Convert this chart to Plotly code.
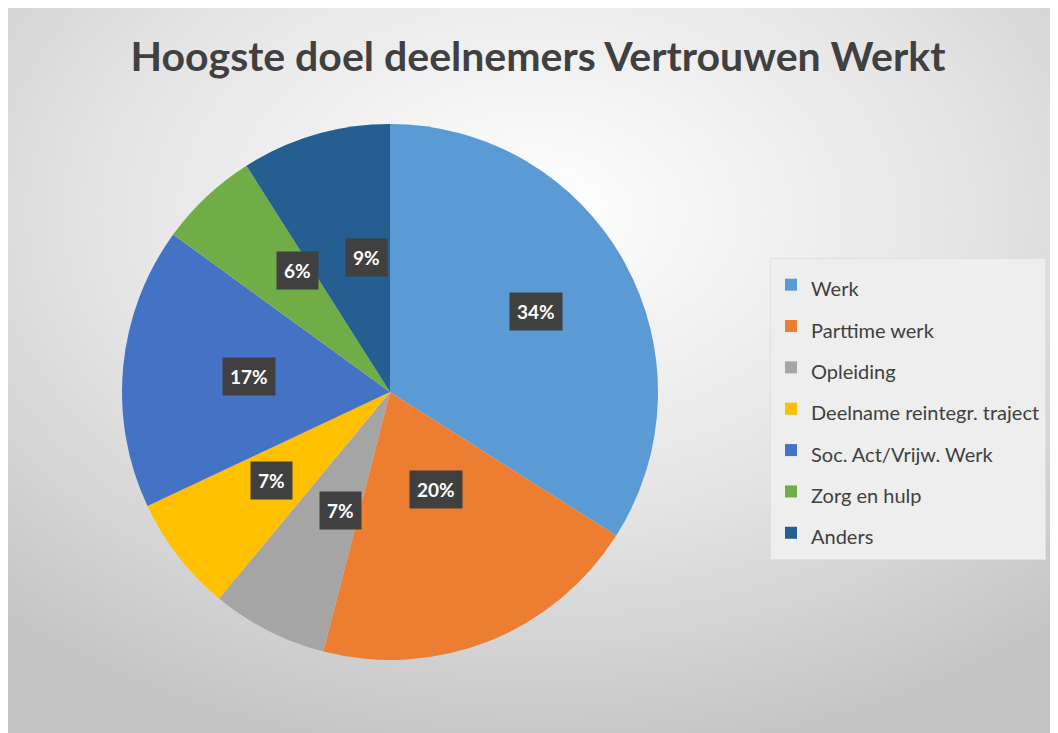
import math
import urllib.parse
import plotly.graph_objects as go

# ---- data ----
categories = ["Werk", "Parttime werk", "Opleiding", "Deelname reintegr. traject",
              "Soc. Act/Vrijw. Werk", "Zorg en hulp", "Anders"]
values = [34, 20, 7, 7, 17, 6, 9]
colors = ["#5B9BD5", "#ED7D31", "#A5A5A5", "#FFC000", "#4472C4", "#70AD47", "#255E91"]
title_text = "Hoogste doel deelnemers Vertrouwen Werkt"

W, H = 1058, 733
OFF = 8  # page body margin
FONT = "Lato, 'Open Sans', Calibri, sans-serif"

def px2x(px):
    return (px - OFF) / W

def py2y(py):
    return 1 - (py - OFF) / H

# pie geometry in screen pixels
cx, cy, R = 390, 392, 268
dom_x = [px2x(cx - R), px2x(cx + R)]
dom_y = [py2y(cy + R), py2y(cy - R)]

legend_labels = [f"<span style='font-size:20px'>{c}</span>" for c in categories]

fig = go.Figure()
fig.add_trace(go.Pie(
    labels=legend_labels, values=values, sort=False, direction="clockwise", rotation=0,
    marker=dict(colors=colors, line=dict(width=0)),
    textinfo="none", hovertemplate="%{percent}<extra></extra>",
    domain=dict(x=dom_x, y=dom_y),
    showlegend=True,
))

# data labels derived from values (mid-angle of each slice)
total = sum(values)
cum = 0
radial = [0.62, 0.47, 0.58, 0.66, 0.63, 0.62, 0.6]
for v, fr in zip(values, radial):
    mid = (cum + v / 2) / total * 2 * math.pi
    cum += v
    sx = cx + fr * R * math.sin(mid)
    sy = cy - fr * R * math.cos(mid)
    fig.add_annotation(
        x=px2x(sx), y=py2y(sy), xref="paper", yref="paper",
        text=f"<b>{round(v / total * 100)}%</b>", showarrow=False,
        font=dict(family=FONT, size=19, color="white"),
        bgcolor="#404040", borderpad=7,
    )

svg = (
    "<svg xmlns='http://www.w3.org/2000/svg' width='1052' height='726' preserveAspectRatio='none'>"
    "<defs><radialGradient id='g' cx='50%' cy='28%' r='75%'>"
    "<stop offset='0%' stop-color='#FFFFFF'/>"
    "<stop offset='55%' stop-color='#E4E4E4'/>"
    "<stop offset='100%' stop-color='#C4C4C4'/>"
    "</radialGradient></defs>"
    "<rect width='1052' height='726' fill='url(#g)'/></svg>"
)
src = "data:image/svg+xml;charset=utf-8," + urllib.parse.quote(svg)

fig.update_layout(
    width=W, height=H,
    margin=dict(l=0, r=0, t=0, b=0),
    paper_bgcolor="white", plot_bgcolor="white",
    images=[dict(source=src, xref="paper", yref="paper", x=0, y=1,
                 sizex=1, sizey=1, sizing="stretch",
                 xanchor="left", yanchor="top", layer="below")],
    title=dict(text=f"<b>{title_text}</b>", x=px2x(538), xanchor="center",
               y=py2y(57), yanchor="middle",
               font=dict(family=FONT, size=41, color="#404040")),
    legend=dict(x=px2x(770), y=py2y(258), xanchor="left", yanchor="top",
                bgcolor="#EEEEEE", bordercolor="#E0E0E0", borderwidth=1,
                font=dict(family=FONT, size=29.5, color="#404040"),
                itemwidth=30, traceorder="normal"),
)

fig.write_html("out.html")
